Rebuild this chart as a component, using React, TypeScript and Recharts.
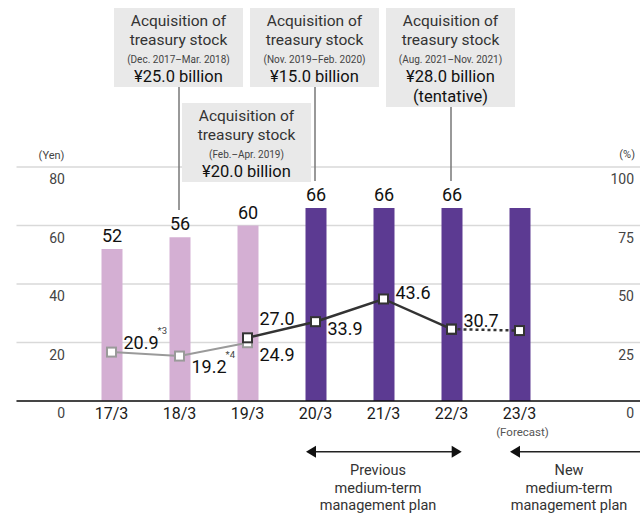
import React from "react";
import {
  ComposedChart,
  Bar,
  Line,
  XAxis,
  YAxis,
  CartesianGrid,
  LabelList,
  Cell,
} from "recharts";

// fiscal years (March year-end)
const years = ["17/3", "18/3", "19/3", "20/3", "21/3", "22/3", "23/3"];
// annual dividend per share (yen); the forecast bar carries no value label
const dividends = [52, 56, 60, 66, 66, 66, 66];
const dividendLabelled = [true, true, true, true, true, true, false];
// payout ratio (%) – old basis, new basis, forecast segment
const payoutOld = [20.9, 19.2, 24.9, null, null, null, null];
const payoutNew = [null, null, 27.0, 33.9, 43.6, 30.7, null];
const payoutForecast = [null, null, null, null, null, 30.7, 30.1];
const yenTicks = [0, 20, 40, 60, 80];
const pctTicks = [0, 25, 50, 75, 100];
const oldNotes = ["*3", "*4", ""];

const LIGHT = "#d4afd3";
const DARK = "#5c3a92";
const FONT = "Roboto, 'Liberation Sans', Arial, sans-serif";

// label baseline offsets from the marker (style only)
const OLD_DY = [-3.5, 17, 18.5];
const NEW_DY = [0, 0, -12.5, 13.5, 0.5, -2.5, 0];

const data = years.map((y, i) => ({
  year: y,
  dividend: dividends[i],
  old: payoutOld[i],
  next: payoutNew[i],
  forecast: payoutForecast[i],
}));

const boxes = [
  { x: 114, y: 8, lines: ["Acquisition of", "treasury stock", "(Dec. 2017–Mar. 2018)", "¥25.0 billion"] },
  { x: 182, y: 103, lines: ["Acquisition of", "treasury stock", "(Feb.–Apr. 2019)", "¥20.0 billion"] },
  { x: 250, y: 8, lines: ["Acquisition of", "treasury stock", "(Nov. 2019–Feb. 2020)", "¥15.0 billion"] },
  { x: 386, y: 8, lines: ["Acquisition of", "treasury stock", "(Aug. 2021–Nov. 2021)", "¥28.0 billion", "(tentative)"] },
];
const leaders = [
  { x: 179, y1: 87, y2: 210 },
  { x: 315, y1: 87, y2: 181 },
  { x: 451, y1: 107, y2: 181 },
];

function squareDot(stroke: string) {
  return (props: any) => {
    const { cx, cy, index, value } = props;
    if (value == null || cy == null) return <g key={`e-${index}`} />;
    return (
      <rect
        key={`d-${index}`}
        x={cx - 4.5}
        y={cy - 4.5}
        width={9}
        height={9}
        fill="#fff"
        stroke={stroke}
        strokeWidth={2}
      />
    );
  };
}

function LeftTick({ y, payload }: any) {
  return (
    <text x={65} y={y + 17} textAnchor="end" fontSize={14} fill="#444" fontFamily={FONT}>
      {payload.value}
    </text>
  );
}

function RightTick({ y, payload }: any) {
  return (
    <text x={634} y={y + 17} textAnchor="end" fontSize={14} fill="#444" fontFamily={FONT}>
      {payload.value}
    </text>
  );
}

function YearTick({ x, y, payload }: any) {
  return (
    <g>
      <text x={x} y={y + 18} textAnchor="middle" fontSize={16} fill="#1a1a1a" fontFamily={FONT}>
        {payload.value}
      </text>
      {payload.value === "23/3" && (
        <text x={x + 3} y={y + 35} textAnchor="middle" fontSize={11.5} fill="#555" fontFamily={FONT}>
          (Forecast)
        </text>
      )}
    </g>
  );
}

function BarValue({ x, y, width, value, index }: any) {
  if (!dividendLabelled[index]) return null;
  return (
    <text x={x + width / 2} y={y - 7} textAnchor="middle" fontSize={18} fill="#111" fontFamily={FONT}>
      {value}
    </text>
  );
}

function OldLabel({ x, y, value, index }: any) {
  if (value == null) return null;
  return (
    <text x={x + 12} y={y + OLD_DY[index]} fontSize={18} fill="#111" fontFamily={FONT}>
      {Number(value).toFixed(1)}
      {oldNotes[index] && (
        <tspan dx={-1} dy={-15} fontSize={9.5} fill="#444">
          {oldNotes[index]}
        </tspan>
      )}
    </text>
  );
}

function NewLabel({ x, y, value, index }: any) {
  if (value == null) return null;
  return (
    <text x={x + 12} y={y + NEW_DY[index]} fontSize={18} fill="#111" fontFamily={FONT}>
      {Number(value).toFixed(1)}
    </text>
  );
}

export default function App() {
  return (
    <div style={{ position: "absolute", left: 0, top: 0, width: 640, height: 516, background: "#fff", fontFamily: FONT }}>
      <ComposedChart
        width={640}
        height={516}
        data={data}
        margin={{ top: 167, right: -1, bottom: 85, left: 15.5 }}
      >
        <CartesianGrid yAxisId="yen" vertical={false} stroke="#d9d9d9" strokeWidth={1.5} />
        <XAxis
          dataKey="year"
          height={30}
          padding={{ left: 61, right: 86.5 }}
          axisLine={{ stroke: "#111", strokeWidth: 1.5 }}
          tickLine={false}
          tickSize={0}
          tickMargin={0}
          tick={<YearTick />}
          interval={0}
        />
        <YAxis
          yAxisId="yen"
          domain={[0, 80]}
          ticks={yenTicks}
          width={1}
          axisLine={false}
          tickLine={false}
          tick={<LeftTick />}
          interval={0}
        />
        <YAxis
          yAxisId="pct"
          orientation="right"
          domain={[0, 100]}
          ticks={pctTicks}
          width={1}
          axisLine={false}
          tickLine={false}
          tick={<RightTick />}
          interval={0}
        />
        <Bar yAxisId="yen" dataKey="dividend" barSize={21} isAnimationActive={false}>
          {data.map((_, i) => (
            <Cell key={i} fill={i < 3 ? LIGHT : DARK} />
          ))}
          <LabelList dataKey="dividend" content={<BarValue />} />
        </Bar>
        <Line
          yAxisId="pct"
          dataKey="old"
          stroke="#9a9a9a"
          strokeWidth={2}
          dot={squareDot("#9a9a9a")}
          activeDot={false}
          isAnimationActive={false}
        >
          <LabelList dataKey="old" content={<OldLabel />} />
        </Line>
        <Line
          yAxisId="pct"
          dataKey="forecast"
          stroke="#333"
          strokeWidth={2.5}
          strokeDasharray="3 3"
          dot={squareDot("#333")}
          activeDot={false}
          isAnimationActive={false}
        />
        <Line
          yAxisId="pct"
          dataKey="next"
          stroke="#333"
          strokeWidth={2.5}
          dot={squareDot("#333")}
          activeDot={false}
          isAnimationActive={false}
        >
          <LabelList dataKey="next" content={<NewLabel />} />
        </Line>
      </ComposedChart>

      <svg
        width={640}
        height={516}
        style={{ position: "absolute", left: 0, top: 0, pointerEvents: "none" }}
        fontFamily={FONT}
      >
        {leaders.map((l, i) => (
          <line key={i} x1={l.x} x2={l.x} y1={l.y1} y2={l.y2} stroke="#777" strokeWidth={1.5} />
        ))}
        {boxes.map((b, i) => {
          const cx = b.x + 64.5;
          return (
            <g key={i}>
              <rect x={b.x} y={b.y} width={129} height={b.lines.length > 4 ? 99 : 79} fill="#e9e9e9" />
              <text x={cx} y={b.y + 18} textAnchor="middle" fontSize={15.5} fill="#333">{b.lines[0]}</text>
              <text x={cx} y={b.y + 37.2} textAnchor="middle" fontSize={15.5} fill="#333">{b.lines[1]}</text>
              <text x={cx} y={b.y + 55} textAnchor="middle" fontSize={10} fill="#444">{b.lines[2]}</text>
              <text x={cx} y={b.y + 73.5} textAnchor="middle" fontSize={16.5} fill="#111">{b.lines[3]}</text>
              {b.lines[4] && (
                <text x={cx} y={b.y + 93.5} textAnchor="middle" fontSize={16.5} fill="#111">{b.lines[4]}</text>
              )}
            </g>
          );
        })}

        <text x={51.5} y={159} textAnchor="middle" fontSize={11} fill="#444">(Yen)</text>
        <text x={635} y={158} textAnchor="end" fontSize={11} fill="#444">(%)</text>

        {/* plan arrows */}
        <line x1={314} x2={454} y1={451.7} y2={451.7} stroke="#222" strokeWidth={1.5} />
        <polygon points="306,451.7 316,445.7 316,457.7" fill="#111" />
        <polygon points="461.7,451.7 451.7,445.7 451.7,457.7" fill="#111" />
        <line x1={518} x2={640} y1={451.7} y2={451.7} stroke="#222" strokeWidth={1.5} />
        <polygon points="510,451.7 520,445.7 520,457.7" fill="#111" />

        <text x={378} y={475} textAnchor="middle" fontSize={14.5} fill="#333">Previous</text>
        <text x={378} y={492.5} textAnchor="middle" fontSize={14.5} fill="#333">medium-term</text>
        <text x={378} y={510} textAnchor="middle" fontSize={14.5} fill="#333">management plan</text>
        <text x={569} y={475} textAnchor="middle" fontSize={14.5} fill="#333">New</text>
        <text x={569} y={492.5} textAnchor="middle" fontSize={14.5} fill="#333">medium-term</text>
        <text x={569} y={510} textAnchor="middle" fontSize={14.5} fill="#333">management plan</text>
      </svg>
    </div>
  );
}
